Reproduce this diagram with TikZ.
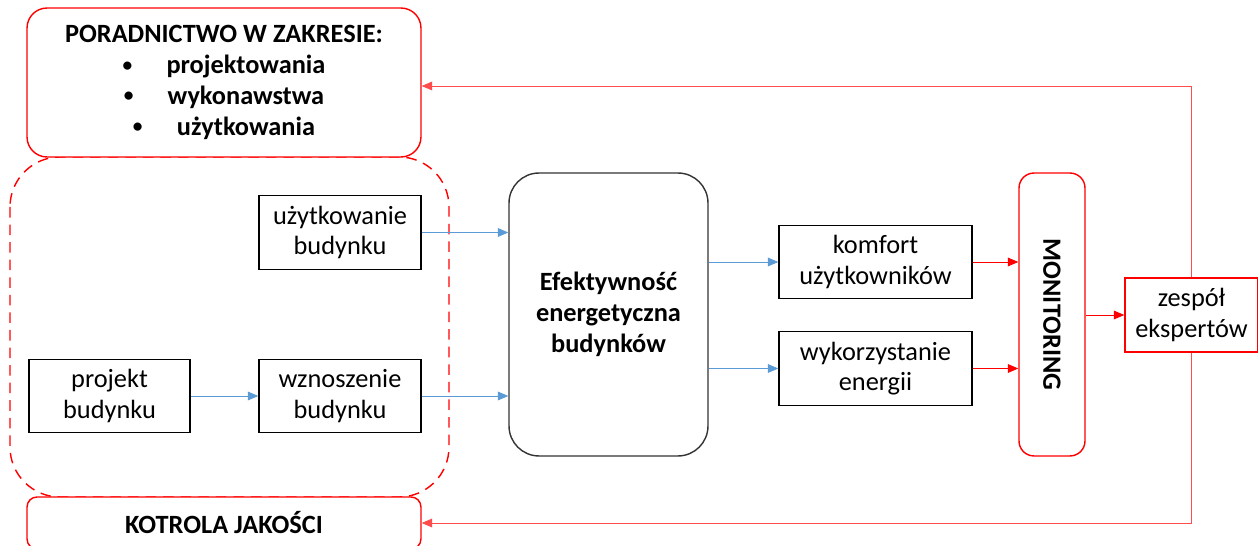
\documentclass[tikz,border=0pt]{standalone}
\usepackage{fontspec}
\usepackage{graphicx}
\setmainfont{Carlito}
\usetikzlibrary{arrows.meta}
\definecolor{flowblue}{RGB}{91,155,213}
\newcommand{\advitem}{\raisebox{1.5pt}{\fontsize{11}{17}\selectfont\textbullet}\hspace{1.3em}}
\begin{document}
\begin{tikzpicture}[x=0.02cm,y=-0.02cm,font=\fontsize{15}{17.5}\selectfont,
    blk/.style={draw,line width=0.8pt,fill=white,align=center,inner sep=2pt},
    redblk/.style={blk,draw=red},
    flow/.style={draw,flowblue,line width=0.5pt,-{Triangle[length=6pt,width=5pt]}},
    redflow/.style={draw,red,line width=0.5pt,-{Triangle[length=6pt,width=5pt]}}]
  \useasboundingbox (0,0) rectangle (1258,546);

  % dashed area
  \draw[red,line width=0.8pt,dash pattern=on 6pt off 4pt,rounded corners=1cm]
    (10,157) rectangle (449,497);

  \begin{scope}[every node/.style={redblk,minimum width=7.88cm,font=\fontsize{15}{17.5}\selectfont\bfseries}]
    \node[minimum height=2.98cm,rounded corners=0.4cm] (adv) at (224,82.5)
      {PORADNICTWO W ZAKRESIE:\\
       \advitem projektowania\\
       \advitem wykonawstwa\\
       \advitem użytkowania};
    \node[minimum height=1.04cm,rounded corners=0.2cm] (qc) at (224,523) {KOTROLA JAKOŚCI};
  \end{scope}

  \begin{scope}[every node/.style={blk,minimum height=1.47cm}]
    \node[minimum width=3.24cm] (use)   at (340,232.5) {użytkowanie\\budynku};
    \node[minimum width=3.22cm] (proj)  at (109.5,396) {projekt\\budynku};
    \node[minimum width=3.24cm] (build) at (340,396)   {wznoszenie\\budynku};
    \node[minimum width=3.86cm] (comf)  at (875.5,262) {komfort\\użytkowników};
    \node[minimum width=3.86cm] (enrg)  at (875.5,368.5) {wykorzystanie\\energii};
  \end{scope}

  \node[blk,draw=black!80,rounded corners=0.6cm,minimum width=3.98cm,minimum height=5.66cm,
    font=\fontsize{15}{17.5}\selectfont\bfseries] (eff) at (608.5,314.5)
    {Efektywność\\energetyczna\\budynków};
  \node[redblk,rounded corners=0.3cm,minimum width=1.32cm,minimum height=5.66cm,
    font=\fontsize{15}{17.5}\selectfont\bfseries] (mon) at (1052,314.5)
    {\rotatebox{-90}{MONITORING}};
  \node[redblk,minimum width=2.66cm,minimum height=1.48cm] (team) at (1191.5,315)
    {zespół\\ekspertów};

  \begin{scope}[every edge/.style={flow}]
    \path (proj)  edge (build);
    \path (use.east)   edge (use.east -| eff.west);
    \path (build.east) edge (build.east -| eff.west);
    \path (eff.east |- comf) edge (comf);
    \path (eff.east |- enrg) edge (enrg);
  \end{scope}

  \begin{scope}[every edge/.style={redflow}]
    \path (comf.east) edge (comf.east -| mon.west);
    \path (enrg.east) edge (enrg.east -| mon.west);
    \path (mon.east |- team) edge (team);
  \end{scope}

  % feedback
  \draw[redflow,red!70] (team.north) |- ([yshift=-0.07cm]adv.east);
  \draw[redflow,red!70] (team.south) |- (qc.east);

\end{tikzpicture}
\end{document}
